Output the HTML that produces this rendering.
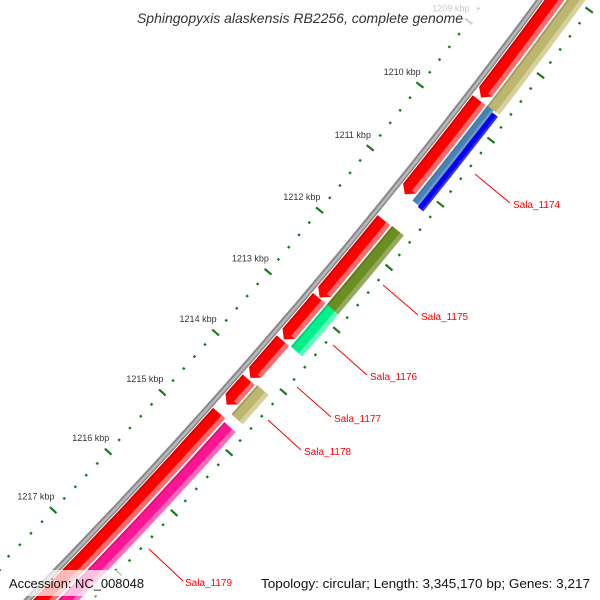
<!DOCTYPE html>
<html><head><meta charset="utf-8"><style>
html,body{margin:0;padding:0;background:#fff;width:600px;height:600px;overflow:hidden;}
svg{display:block;font-family:"Liberation Sans",sans-serif;overflow:hidden;}
</style></head><body>
<svg id="map" width="600" height="600" viewBox="0 0 600 600" xmlns="http://www.w3.org/2000/svg">
<g id="rings"></g>
<g id="ticks"></g>
<g id="callouts">
  <line x1="475" y1="174" x2="510" y2="203" stroke="#f00" stroke-width="1"/>
  <text x="513" y="208" font-size="10" fill="#f00">Sala_1174</text>
  <line x1="383" y1="285" x2="418" y2="315" stroke="#f00" stroke-width="1"/>
  <text x="421" y="320" font-size="10" fill="#f00">Sala_1175</text>
  <line x1="333" y1="345" x2="367" y2="375" stroke="#f00" stroke-width="1"/>
  <text x="370" y="380" font-size="10" fill="#f00">Sala_1176</text>
  <line x1="297" y1="387" x2="331" y2="417" stroke="#f00" stroke-width="1"/>
  <text x="334" y="422" font-size="10" fill="#f00">Sala_1177</text>
  <line x1="268" y1="420" x2="301" y2="450" stroke="#f00" stroke-width="1"/>
  <text x="304" y="455" font-size="10" fill="#f00">Sala_1178</text>
  <line x1="149" y1="549" x2="183" y2="581" stroke="#f00" stroke-width="1"/>
  <text x="185" y="586" font-size="10" fill="#f00">Sala_1179</text>
</g>
<rect x="115" y="5" width="368" height="26" fill="#fff" opacity="0.72"/>
<text x="300" y="23" font-size="14" font-style="italic" fill="#333" text-anchor="middle">Sphingopyxis alaskensis RB2256, complete genome</text>
<rect x="4" y="570" width="144" height="26" fill="#fff" opacity="0.72"/>
<text x="9" y="588" font-size="13" fill="#111" textLength="135" lengthAdjust="spacingAndGlyphs">Accession: NC_008048</text>
<rect x="255" y="570" width="342" height="26" fill="#fff" opacity="0.72"/>
<text x="261" y="588" font-size="13" fill="#111" textLength="329" lengthAdjust="spacingAndGlyphs">Topology: circular; Length: 3,345,170 bp; Genes: 3,217</text>
</svg>
<script>
// ---- data ----
const geneNames  = ["Sala_1173","Sala_1174a","Sala_1175a","Sala_1176a","Sala_1177a","Sala_1178a","Sala_1179a",
                    "Sala_1174","Sala_1174b","Sala_1175","Sala_1176","Sala_1177","Sala_1178","Sala_1179"];
const geneStarts = [1207.0, 1209.70, 1211.59, 1212.84, 1213.53, 1214.17, 1214.72,
                    1207.0, 1209.69, 1211.58, 1212.84, 1214.15, 1214.76, 1209.72];
const geneEnds   = [1209.66, 1211.18, 1212.83, 1213.51, 1214.14, 1214.58, 1220.0,
                    1209.69, 1211.18, 1212.84, 1213.52, 1214.63, 1220.0, 1211.20];
const geneRing   = [1,1,1,1,1,1,1, 2,3,2,2,2,2,4];
const geneArrow  = [1,1,1,1,1,1,0, 0,0,0,0,0,0,0];
const geneColors = ["#ff0000","#ff0000","#ff0000","#ff0000","#ff0000","#ff0000","#ff0000",
                    "#bdb66f","#4682b4","#6b8e23","#00f08c","#bdb66f","#ff1493","#0000ff"];
const geneLight  = ["#ff6a6a","#ff6a6a","#ff6a6a","#ff6a6a","#ff6a6a","#ff6a6a","#ff6a6a",
                    "#d6d09a","#6a9ccc","#93aa5c","#5cffb8","#d6d09a","#ff6ab8","#3030ff"];
const tickStart = 1208.0, tickEnd = 1219.0, tickStep = 0.2;
const majorLabels = [1209,1210,1211,1212,1213,1214,1215,1216,1217,1218];

// ---- geometry (axis functions) ----
const CX=-3952, CY=-3316, R0=5583;
function deg(k){ return 37.88 + 0.83*(k-1210); }
function pt(r,a){ const t=a*Math.PI/180; return [CX+r*Math.cos(t), CY+r*Math.sin(t)]; }
const ringR = {1:[R0+4,R0+20],2:[R0+22,R0+37],3:[R0+22,R0+30],4:[R0+30,R0+37]};
const NS="http://www.w3.org/2000/svg";
function f(p){return p[0].toFixed(2)+","+p[1].toFixed(2);}
function sector(a1,a2,r1,r2){
  return "M"+f(pt(r1,a1))+" A"+r1+" "+r1+" 0 0 1 "+f(pt(r1,a2))+" L"+f(pt(r2,a2))+" A"+r2+" "+r2+" 0 0 0 "+f(pt(r2,a1))+"Z";
}
function arrow(a1,a2,r1,r2){
  const ah=a2-0.075, rm=(r1+r2)/2;
  return "M"+f(pt(r1,a1))+" A"+r1+" "+r1+" 0 0 1 "+f(pt(r1,ah))+" L"+f(pt(rm,a2))+" L"+f(pt(r2,ah))+" A"+r2+" "+r2+" 0 0 0 "+f(pt(r2,a1))+"Z";
}
function mk(tag,parent){ const e=document.createElementNS(NS,tag); parent.appendChild(e); return e; }

const rings=document.getElementById("rings");
const bb=mk("path",rings);


bb.setAttribute("d",sector(deg(1202),deg(1222),R0-3,R0+3));
bb.setAttribute("fill","#888");
const bbh=mk("path",rings);


bbh.setAttribute("d",sector(deg(1202),deg(1222),R0-1,R0+1.5));
bbh.setAttribute("fill","#b8b8b8");

for(let i=0;i<geneNames.length;i++){
  const [r1,r2]=ringR[geneRing[i]];
  const a1=deg(geneStarts[i]), a2=deg(geneEnds[i]);
  const g=mk("g",rings);
  
  
  const p=mk("path",g);
  p.setAttribute("d", geneArrow[i]? arrow(a1,a2,r1,r2) : sector(a1,a2,r1,r2));
  p.setAttribute("fill",geneColors[i]);
  const ae = geneArrow[i]? a2-0.075 : a2;
  const w=r2-r1;
  const hl=mk("path",g);
  hl.setAttribute("d",sector(a1,ae,r2-w*0.3,r2));
  hl.setAttribute("fill",geneLight[i]);
  const dk=mk("path",g);
  dk.setAttribute("d",sector(a1,ae,r1,r1+w*0.12));
  dk.setAttribute("fill","#000");
  dk.setAttribute("opacity","0.15");
}

const tg=document.getElementById("ticks");
const nT=Math.round((tickEnd-tickStart)/tickStep);
for(let j=0;j<=nT;j++){
  const k=tickStart+j*tickStep;
  const major=Math.abs(k-Math.round(k))<1e-6;
  const a=deg(k);
  [[-44,-1],[46,1]].forEach(([off,side])=>{
    const ln=mk("line",tg);
    
    
    const h=major?4.5:1.2;
    const p1=pt(R0+off-h,a), p2=pt(R0+off+h,a);
    ln.setAttribute("x1",p1[0]);ln.setAttribute("y1",p1[1]);
    ln.setAttribute("x2",p2[0]);ln.setAttribute("y2",p2[1]);
    ln.setAttribute("stroke","#1a7a1a");
    ln.setAttribute("stroke-width",major?2.2:2.4);
  });
}
majorLabels.forEach(k=>{
  const p=pt(R0-52,deg(k));
  const t=mk("text",tg);
  
  
  t.setAttribute("x",p[0]+7);
  t.setAttribute("y",p[1]-5);
  t.setAttribute("text-anchor","end");
  t.setAttribute("font-size","9");
  t.setAttribute("fill","#333");
  t.textContent=k+" kbp";
});
</script>
</body></html>
